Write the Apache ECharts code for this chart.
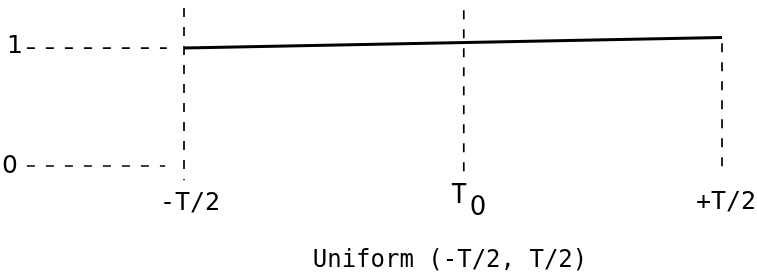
<!DOCTYPE html>
<html>
<head>
<meta charset="utf-8">
<title>Uniform (-T/2, T/2)</title>
<script src="https://cdn.jsdelivr.net/npm/echarts@6/dist/echarts.min.js"></script>
<style>
  html, body { margin: 0; padding: 0; background: #fff; }
  #chart { width: 757px; height: 276px; }
</style>
</head>
<body>
<div id="chart"></div>
<script>
// density line: uniform between -T/2 and +T/2 (scan is slightly tilted)
const densityX = [-0.5, 0.5];
const densityY = [1, 1.09];

// vertical guides at the x ticks
const tickX = [-0.5, 0.02, 0.5];
const tickLabels = ['{n|-T/2}', '{t|T}{s|0}', '{n|+T/2}'];
const guideTop = [1.34, 1.32, 1.04];
const guideBottom = [-0.12, -0.06, -0.02];

// horizontal guides at the y levels
const levels = [1, 0];
const levelLabels = ['{d|1}', '{d|0}'];
const levelStart = [-0.792, -0.792];
const levelEnd = [-0.532, -0.535];

const titleText = 'Uniform (-T/2, T/2)';

const MONO = 'DejaVu Sans Mono';
const SANS = 'DejaVu Sans';
const INK = '#000';

let chart = echarts.init(document.getElementById('chart'));

let series = [];

// solid density line
series.push({
  type: 'line',
  data: densityX.map((x, i) => [x, densityY[i]]),
  symbol: 'none',
  lineStyle: { color: INK, width: 3 },
  z: 5
});

// dashed vertical guides
tickX.forEach((x, i) => {
  series.push({
    type: 'line',
    data: [[x, guideTop[i]], [x, guideBottom[i]]],
    symbol: 'none',
    lineStyle: { color: INK, width: 1.7, type: [9, 10] }
  });
});

// dashed horizontal guides
levels.forEach((v, i) => {
  series.push({
    type: 'line',
    data: [[levelStart[i], v], [levelEnd[i], v]],
    symbol: 'none',
    lineStyle: { color: INK, width: 1.7, type: [8, 11] }
  });
});

chart.setOption({
  animation: false,
  backgroundColor: '#fff',
  title: {
    text: titleText,
    left: 445,
    top: 244,
    textAlign: 'center',
    textStyle: { fontFamily: MONO, fontSize: 24, fontWeight: 'normal', color: INK }
  },
  grid: { left: 0, right: 0, top: 0, bottom: 0 },
  xAxis: {
    type: 'value',
    min: -0.842,
    max: 0.565,
    show: false
  },
  yAxis: {
    type: 'value',
    min: -0.932,
    max: 1.407,
    show: false
  },
  series: series
});

// tick / level labels, placed through the grid's scales
function label(text, pos, dx, dy) {
  return {
    type: 'text',
    x: pos[0] + dx,
    y: pos[1] + dy,
    style: {
      text: text,
      fill: INK,
      fontFamily: MONO,
      fontSize: 25,
      align: 'center',
      verticalAlign: 'middle',
      rich: {
        n: { fontFamily: MONO, fontSize: 25, fill: INK },
        t: { fontFamily: MONO, fontSize: 26, fill: INK, padding: [0, 3, 10, 0] },
        s: { fontFamily: SANS, fontSize: 26, fill: INK, padding: [14, 0, 0, 0] },
        d: { fontFamily: SANS, fontSize: 25, fill: INK }
      }
    }
  };
}
const tickOffsets = [[6, 2], [5, 0], [4, 1]];
const levelOffsets = [[3, -2], [-2, 0]];
let graphics = [];
tickX.forEach((x, i) => {
  let p = chart.convertToPixel({ gridIndex: 0 }, [x, -0.3]);
  graphics.push(label(tickLabels[i], p, tickOffsets[i][0], tickOffsets[i][1]));
});
levels.forEach((v, i) => {
  let p = chart.convertToPixel({ gridIndex: 0 }, [-0.82, v]);
  graphics.push(label(levelLabels[i], p, levelOffsets[i][0], levelOffsets[i][1]));
});
chart.setOption({ graphic: graphics });
</script>
</body>
</html>
